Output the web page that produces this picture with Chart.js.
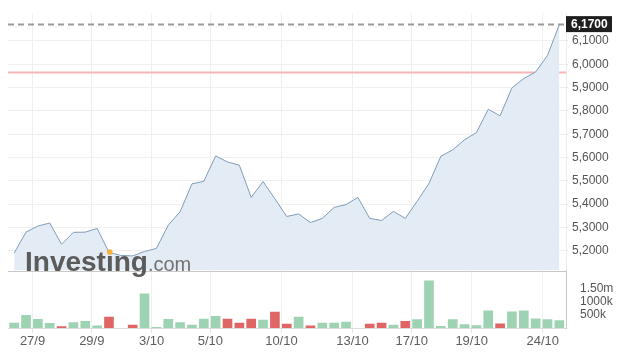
<!DOCTYPE html>
<html>
<head>
<meta charset="utf-8">
<title>Investing chart</title>
<script src="https://cdn.jsdelivr.net/npm/chart.js@4.4.0/dist/chart.umd.min.js"></script>
<style>
    html, body { margin: 0; padding: 0; background: #fff; }
    #wrap { width: 625px; height: 361px; position: relative; }
</style>
</head>
<body>
<div id="wrap"><canvas id="priceChart"></canvas></div>
<script>
// ==========================================
// Data
// ==========================================

// closing price per session, oldest first
var prices = [
    5.190, 5.280, 5.306, 5.319, 5.228, 5.279, 5.280, 5.296, 5.193, 5.180,
    5.178, 5.197, 5.210, 5.310, 5.367, 5.487, 5.498, 5.607, 5.581, 5.567,
    5.429, 5.497, 5.423, 5.347, 5.358, 5.321, 5.339, 5.386, 5.398, 5.429,
    5.339, 5.330, 5.369, 5.339, 5.412, 5.489, 5.605, 5.633, 5.676, 5.707,
    5.807, 5.779, 5.899, 5.939, 5.967, 6.038, 6.170
];

// volume per session (null = no bar)
var volumes = [
    190000, 490000, 330000, 180000, 50000, 210000, 260000, 80000, 420000, null,
    110000, 1310000, 30000, 330000, 210000, 110000, 340000, 450000, 340000, 190000,
    340000, 300000, 610000, 150000, 420000, 80000, 190000, 190000, 230000, null,
    150000, 190000, 110000, 260000, 320000, 1810000, 60000, 320000, 130000, 90000,
    660000, 160000, 620000, 660000, 350000, 320000, 280000
];

// date labels and where they sit along the session index
var dateLabels = ['27/9', '29/9', '3/10', '5/10', '10/10', '13/10', '17/10', '19/10', '24/10'];
var dateTickAt = [1.55, 6.55, 11.6, 16.55, 22.55, 28.55, 33.55, 38.6, 44.6];

var priceTicks = [5.2, 5.3, 5.4, 5.5, 5.6, 5.7, 5.8, 5.9, 6.0, 6.1];
var volumeTicks = [500000, 1000000, 1500000];
var volumeTickLabels = ['500k', '1000k', '1.50m'];

var refPrice = 5.965; // previous close line

// ==========================================
// Styles
// ==========================================
var FONT = 'Arial, "Liberation Sans", sans-serif';
var UP_COLOR = '#9dd3b2';
var DOWN_COLOR = '#e06666';

function formatPrice(v) {
    return v.toFixed(4).replace('.', ',');
}

// build {x,y} points from the arrays
var pricePoints = prices.map(function(p, i) { return { x: i, y: p }; });
var volumePoints = volumes.map(function(v, i) { return { x: i, y: v }; });
var barColors = prices.map(function(p, i) {
    return (i > 0 && p < prices[i - 1]) ? DOWN_COLOR : UP_COLOR;
});

// ==========================================
// Overlay plugin: last price, ref line, logo
// ==========================================
var overlayPlugin = {
    id: 'overlay',
    beforeDatasetsDraw: function(chart) {
        var ctx = chart.ctx;
        var area = chart.chartArea;
        var yP = chart.scales.yPrice;

        ctx.save();
        // red reference line
        var ry = yP.getPixelForValue(refPrice);
        ctx.strokeStyle = '#f4b6b6';
        ctx.lineWidth = 2;
        ctx.beginPath();
        ctx.moveTo(area.left, ry);
        ctx.lineTo(area.right, ry);
        ctx.stroke();

        // separator between price and volume panes
        ctx.strokeStyle = '#c8c8c8';
        ctx.lineWidth = 1;
        ctx.beginPath();
        ctx.moveTo(area.left, Math.round(yP.bottom) + 0.5);
        ctx.lineTo(area.right, Math.round(yP.bottom) + 0.5);
        ctx.stroke();
        ctx.restore();
    },
    afterDatasetsDraw: function(chart) {
        var ctx = chart.ctx;
        var area = chart.chartArea;
        var yP = chart.scales.yPrice;
        var last = prices[prices.length - 1];
        var ly = yP.getPixelForValue(last);

        ctx.save();
        // dashed last price line
        ctx.strokeStyle = '#9a9a9a';
        ctx.lineWidth = 2;
        ctx.setLineDash([6, 4]);
        ctx.beginPath();
        ctx.moveTo(area.left, ly);
        ctx.lineTo(area.right, ly);
        ctx.stroke();
        ctx.setLineDash([]);

        // last price tag
        ctx.fillStyle = '#1e1e1e';
        ctx.fillRect(area.right, ly - 8.5, 46, 16);
        ctx.fillStyle = '#fff';
        ctx.font = 'bold 12px ' + FONT;
        ctx.textBaseline = 'middle';
        ctx.textAlign = 'left';
        ctx.fillText(formatPrice(last), area.right + 5, ly + 0.5);

        // watermark logo
        var lx = area.left + 17;
        var base = yP.bottom;
        ctx.textBaseline = 'alphabetic';
        ctx.font = 'bold 28px ' + FONT;
        ctx.fillStyle = '#5b5b5b';
        ctx.fillText('Investing', lx, base);
        var w = ctx.measureText('Investing').width;
        var dotX = lx + ctx.measureText('Invest').width + ctx.measureText('i').width / 2;
        ctx.font = '20px ' + FONT;
        ctx.fillStyle = '#727272';
        ctx.fillText('.com', lx + w, base);
        ctx.fillStyle = '#f4b23c';
        ctx.beginPath();
        ctx.arc(dotX, base - 18.5, 2.8, 0, Math.PI * 2);
        ctx.fill();
        ctx.restore();
    }
};

// ==========================================
// Chart
// ==========================================
var chart = new Chart(document.getElementById('priceChart'), {
    data: {
        datasets: [{
            type: 'line',
            data: pricePoints,
            yAxisID: 'yPrice',
            borderColor: '#7f9dbd',
            borderWidth: 1,
            backgroundColor: '#e3ebf4',
            fill: 'start',
            pointRadius: 0,
            tension: 0
        }, {
            type: 'bar',
            data: volumePoints,
            yAxisID: 'yVol',
            backgroundColor: barColors,
            barThickness: 9
        }]
    },
    options: {
        responsive: true,
        maintainAspectRatio: false,
        animation: false,
        layout: { padding: { left: 8, top: 10, right: 0, bottom: 0 } },
        plugins: {
            legend: { display: false },
            tooltip: { enabled: false }
        },
        scales: {
            x: {
                type: 'linear',
                min: -0.52,
                max: 46.56,
                offset: false,
                afterBuildTicks: function(scale) {
                    scale.ticks = dateTickAt.map(function(v) { return { value: v }; });
                },
                afterFit: function(scale) { scale.height = 33; },
                grid: { offset: false, color: '#efefef', tickLength: 5, tickColor: '#e4e4e4' },
                border: { color: '#dedede' },
                ticks: {
                    autoSkip: false,
                    maxRotation: 0,
                    padding: 1,
                    color: '#5e5e5e',
                    font: { family: FONT, size: 13 },
                    callback: function(v, i) { return dateLabels[i]; }
                }
            },
            yPrice: {
                type: 'linear',
                position: 'right',
                stack: 'panes',
                stackWeight: 260,
                min: 5.115,
                max: 6.219,
                afterBuildTicks: function(scale) {
                    scale.ticks = priceTicks.map(function(v) { return { value: v }; });
                },
                afterFit: function(scale) { scale.width = 59; },
                grid: { color: '#f0f0f0', tickLength: 2, tickColor: '#e0e0e0' },
                border: { color: '#ececec' },
                ticks: {
                    autoSkip: false,
                    padding: 4,
                    color: '#555',
                    font: { family: FONT, size: 12 },
                    callback: function(v) { return formatPrice(v); }
                }
            },
            yVol: {
                type: 'linear',
                position: 'right',
                stack: 'panes',
                stackWeight: 58,
                min: 0,
                max: 2200000,
                afterBuildTicks: function(scale) {
                    scale.ticks = volumeTicks.map(function(v) { return { value: v }; });
                },
                afterFit: function(scale) { scale.width = 59; },
                grid: { display: false },
                border: { color: '#c8c8c8' },
                ticks: {
                    autoSkip: false,
                    padding: 6,
                    color: '#555',
                    font: { family: FONT, size: 12 },
                    callback: function(v, i) { return volumeTickLabels[i]; }
                }
            }
        }
    },
    plugins: [overlayPlugin]
});
</script>
</body>
</html>
